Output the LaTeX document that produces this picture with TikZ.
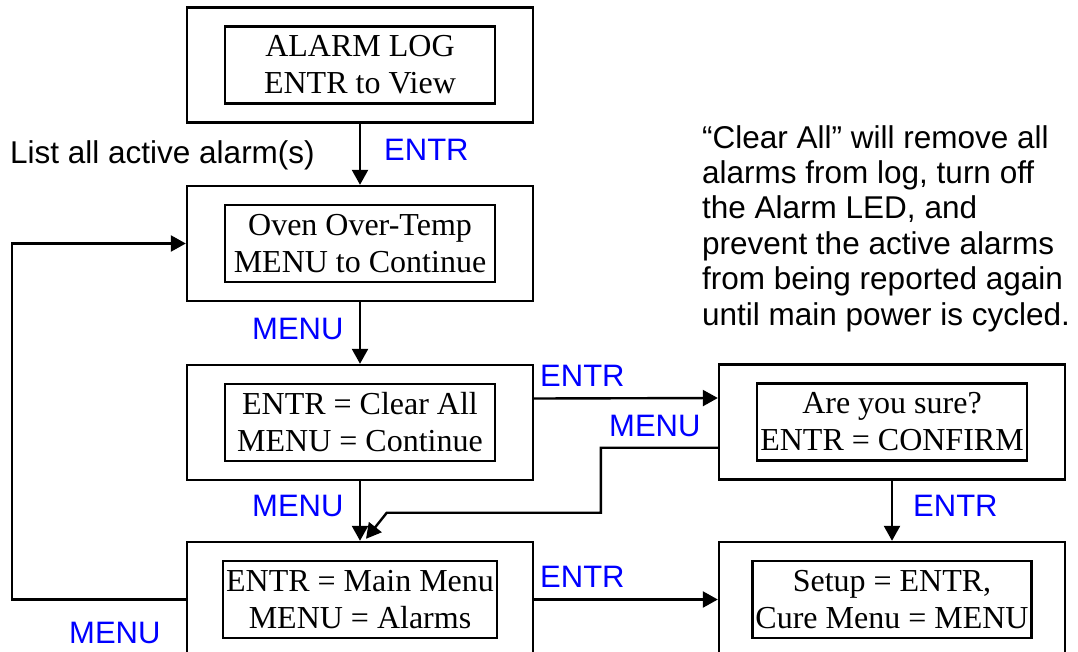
\documentclass[tikz,border=0pt]{standalone}
\usepackage{fontspec}
\setmainfont{Liberation Serif}
\newfontfamily\arialfont{Liberation Sans}
\usetikzlibrary{arrows.meta,calc}
\definecolor{keyblue}{HTML}{0000FF}
\tikzset{
  screen/.style={draw, line width=2.4pt, minimum width=346pt, minimum height=115pt},
  lcd/.style={draw, line width=2.2pt, minimum width=270pt, minimum height=77pt, inner sep=3pt,
    align=center, font=\fontsize{32}{37}\selectfont},
  flow/.style={line width=2.4pt, -{Triangle[length=15pt,width=16pt]}},
  key/.style={text=keyblue, font=\arialfont\fontsize{31}{36}\selectfont, anchor=base west, inner sep=0pt},
  note/.style={font=\arialfont\fontsize{31.5}{35.4}\selectfont, anchor=base west, inner sep=0pt, align=left}
}
\begin{document}
\begin{tikzpicture}[x=1pt,y=-1pt]
  \useasboundingbox (0,0) rectangle (1078,651);

  % left column of screens
  \node[screen] (alarmlog) at (360,65) {};
  \node[lcd] (alarmlogtxt) at (alarmlog) {ALARM LOG\\ENTR to View};
  \node[screen] (oventemp) at (360,243.5) {};
  \node[lcd] (oventemptxt) at (oventemp) {Oven Over-Temp\\MENU to Continue};
  \node[screen] (clearall) at (360,422.5) {};
  \node[lcd] (clearalltxt) at (clearall) {ENTR = Clear All\\MENU = Continue};
  \node[screen] (mainmenu) at (360,599.5) {};
  \node[lcd] (mainmenutxt) at (mainmenu) {ENTR = Main Menu\\MENU = Alarms};

  % right column
  \node[screen] (confirm) at (892,422) {};
  \node[lcd] (confirmtxt) at (confirm) {Are you sure?\\ENTR = CONFIRM};
  \node[screen] (setup) at (892,599.5) {};
  \node[lcd] (setuptxt) at (setup) {Setup = ENTR,\\Cure Menu = MENU};

  \draw[flow] (alarmlog.south) -- (oventemp.north);
  \draw[flow] (oventemp.south) -- (clearall.north);
  \draw[flow] (clearall.south) -- (mainmenu.north);
  \draw[flow] ($(clearall.east)+(0,-24)$) -- ($(confirm.west)+(0,-24)$);
  \draw[flow] (confirm.south) -- (setup.north);
  \draw[flow] (mainmenu.east) -- (setup.west);
  \draw[flow] (mainmenu.west) -- ++(-174,0) |- (oventemp.west);

  % MENU back from confirm
  \coordinate (back) at ($(confirm.south west)+(0,-33)$);
  \coordinate (dip) at ($(back)+(-117,65)$);
  \draw[flow] (back) -| (dip) -- ++(-214,0) -- ($(mainmenu.north)+(6,-2)$);

  \node[note] (listnote) at (10,163) {List all active alarm(s)};
  \node[key] (k1) at (384,160) {ENTR};
  \node[key] (k2) at (252,339) {MENU};
  \node[key] (k3) at (540,386) {ENTR};
  \node[key] (k4) at (609,436) {MENU};
  \node[key] (k5) at (252,516) {MENU};
  \node[key] (k6) at (913,516) {ENTR};
  \node[key] (k7) at (540,587) {ENTR};
  \node[key] (k8) at (69,643) {MENU};

  \node[note] (clearnote) at (702,325) {“Clear All” will remove all\\alarms from log, turn off\\the Alarm LED, and\\prevent the active alarms\\from being reported again\\until main power is cycled.};
\end{tikzpicture}
\end{document}
